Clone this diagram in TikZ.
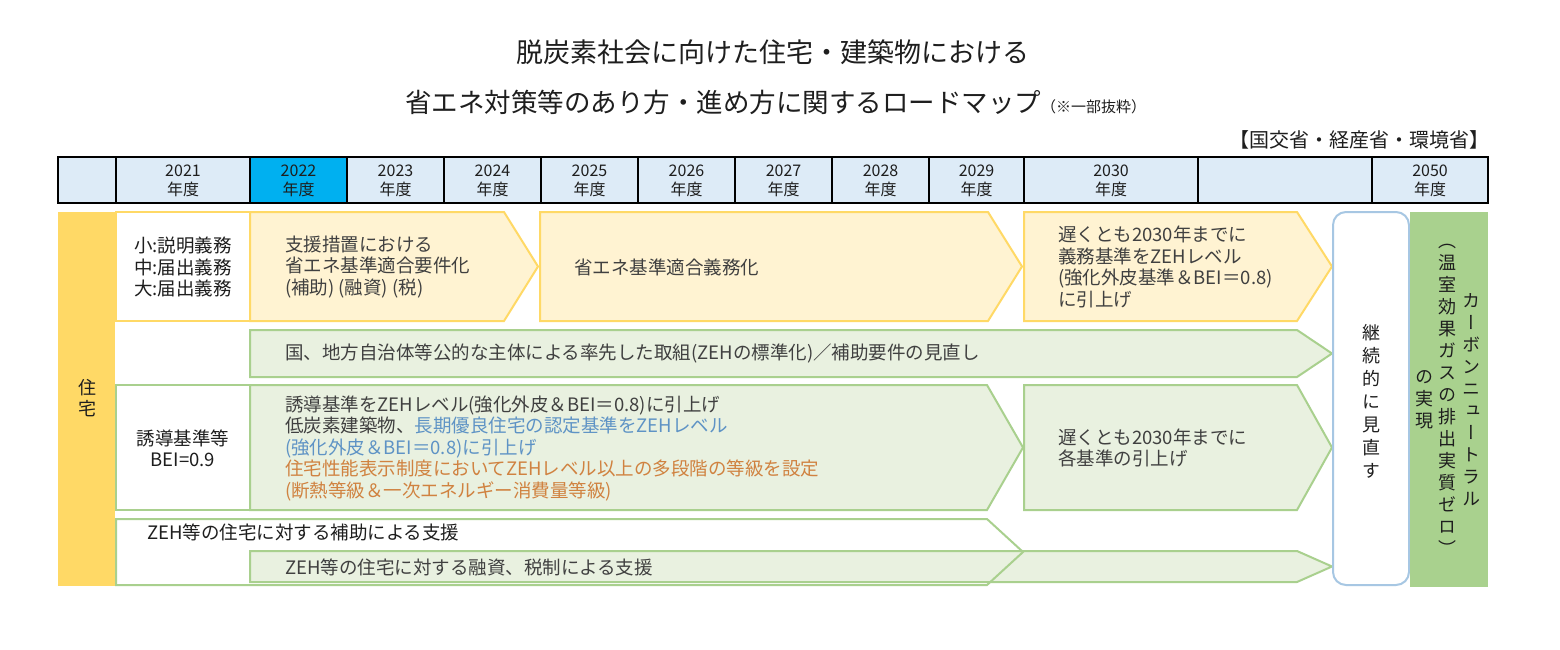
\documentclass[tikz,border=0pt]{standalone}
\usepackage{fontspec}
\setmainfont{Noto Sans CJK JP}
\newfontfamily\jpv{Noto Sans CJK JP}[RawFeature=+vert]
\definecolor{hdr}{HTML}{DDEBF7}
\definecolor{hdrhi}{HTML}{00B0F0}
\definecolor{ylwfill}{HTML}{FFF3D2}
\definecolor{ylwline}{HTML}{FFD966}
\definecolor{grnfill}{HTML}{E9F1E0}
\definecolor{grnline}{HTML}{A9D08E}
\definecolor{orangecol}{HTML}{FFD966}
\definecolor{grnbox}{HTML}{A9D18E}
\definecolor{bluebox}{HTML}{A7C7E3}
\definecolor{txtgray}{HTML}{404040}
\definecolor{txtblue}{HTML}{5E93C5}
\definecolor{txtorange}{HTML}{D08240}
\definecolor{txtblack}{HTML}{1E1E1E}
\tikzset{
  base/.style={inner sep=0pt, outer sep=0pt},
  yr/.style={base, align=center, font=\fontsize{16}{19}\selectfont, text=txtblack},
  body/.style={base, anchor=west, align=left, font=\fontsize{18.5}{21.5}\selectfont, text=txtgray},
  lab/.style={base, align=center, font=\fontsize{18.5}{21.5}\selectfont, text=txtblack},
  yarrow/.style={fill=ylwfill, draw=ylwline, line width=2pt},
  garrow/.style={fill=grnfill, draw=grnline, line width=2pt},
  vtext/.style={base, align=center, text=txtblack, font=\jpv\fontsize{18}{22}\selectfont},
}
\begin{document}
\begin{tikzpicture}[x=1pt,y=-1pt]
\useasboundingbox (0,0) rectangle (1560,650);
\fill[white] (0,0) rectangle (1560,650);

% titles
\node[base, font=\fontsize{27}{30}\selectfont, text=txtblack] (title1) at (773,52) {脱炭素社会に向けた住宅・建築物における};
\node[base, anchor=west, font=\fontsize{26.5}{30}\selectfont, text=txtblack] (title2) at (405,102) {省エネ対策等のあり方・進め方に関するロードマップ{\fontsize{15}{15}\selectfont （※一部抜粋）}};
\node[base, anchor=east, font=\fontsize{20}{22}\selectfont, text=txtblack] (auth) at (1489,140) {【国交省・経産省・環境省】};

% header
\fill[hdr] (58,157) rectangle (1488,203);
\fill[hdrhi] (250,157) rectangle (347,203);
\foreach \xx in {116,250,347,444,541,638,735,832,929,1024,1198,1372}
  \draw[line width=1.6pt] (\xx,157) -- (\xx,203);
\draw[line width=2.6pt] (58,157) rectangle (1488,203);
\foreach \c/\t [count=\i] in {183/2021,298.5/2022,395.5/2023,492.5/2024,589.5/2025,686.5/2026,783.5/2027,880.5/2028,976.5/2029,1111/2030,1430/2050}
  \node[yr] (yr\i) at (\c,180.5) {\t\\年度};

% left category column
\fill[orangecol] (58,212) rectangle (115,586);
\node[lab, font=\fontsize{18}{21}\selectfont] (house) at (87.5,398) {住\\宅};

% row 1
\draw[fill=white, draw=ylwline, line width=2pt] (116,212) rectangle (250,321);
\node[lab] (r1lab) at (183,267) {小:説明義務\\中:届出義務\\大:届出義務};
\draw[yarrow] (250,212) -- (504,212) -- (538,266.5) -- (504,321) -- (250,321) -- cycle;
\node[body] (r1a) at (285,267) {支援措置における\\省エネ基準適合要件化\\(補助) (融資) (税)};
\draw[yarrow] (540,212) -- (988,212) -- (1022,266.5) -- (988,321) -- (540,321) -- cycle;
\node[body] (r1b) at (574,267) {省エネ基準適合義務化};
\draw[yarrow] (1024,212) -- (1297,212) -- (1332,266.5) -- (1297,321) -- (1024,321) -- cycle;
\node[body] (r1c) at (1058,267) {遅くとも2030年までに\\義務基準をZEHレベル\\(強化外皮基準＆BEI＝0.8)\\に引上げ};

% row 2
\draw[garrow] (250,330) -- (1297,330) -- (1332,353.5) -- (1297,377) -- (250,377) -- cycle;
\node[body] (r2a) at (285,353.5) {国、地方自治体等公的な主体による率先した取組(ZEHの標準化)／補助要件の見直し};

% row 3
\draw[fill=white, draw=grnline, line width=2pt] (116,385) rectangle (250,510);
\node[lab] (r3lab) at (183,448.5) {誘導基準等\\BEI=0.9};
\draw[garrow] (250,385) -- (987,385) -- (1023,447.5) -- (987,510) -- (250,510) -- cycle;
\node[body] (r3a) at (285,448) {誘導基準をZEHレベル(強化外皮＆BEI＝0.8)に引上げ\\
低炭素建築物、\textcolor{txtblue}{長期優良住宅の認定基準をZEHレベル}\\
\textcolor{txtblue}{(強化外皮＆BEI＝0.8)に引上げ}\\
\textcolor{txtorange}{住宅性能表示制度においてZEHレベル以上の多段階の等級を設定}\\
\textcolor{txtorange}{(断熱等級＆一次エネルギー消費量等級)}};
\draw[garrow] (1024,385) -- (1297,385) -- (1332,447.5) -- (1297,510) -- (1024,510) -- cycle;
\node[body] (r3b) at (1058,448) {遅くとも2030年までに\\各基準の引上げ};

% row 4
\path[fill=white] (116,519) -- (987,519) -- (1023,552) -- (987,585) -- (116,585) -- cycle;
\draw[garrow] (250,551) -- (1297,551) -- (1332,566.5) -- (1297,582) -- (250,582) -- cycle;
\draw[draw=grnline, line width=2pt] (116,519) -- (987,519) -- (1023,552) -- (987,585) -- (116,585) -- cycle;
\node[body, text=txtblack] (r4a) at (147,532) {ZEH等の住宅に対する補助による支援};
\node[body] (r4b) at (285,567) {ZEH等の住宅に対する融資、税制による支援};

% continuous review box
\draw[fill=white, draw=bluebox, line width=2pt, rounded corners=13pt] (1333,212) rectangle (1409,585);
\node[vtext, font=\jpv\fontsize{18}{23}\selectfont] (review) at (1371,401) {継\\続\\的\\に\\見\\直\\す};

% carbon neutral box
\fill[grnbox] (1410,212) rectangle (1488,587);
\node[vtext] (cn1) at (1471,400) {カ\\ー\\ボ\\ン\\ニ\\ュ\\ー\\ト\\ラ\\ル};
\node[vtext] (cn2) at (1447,400) {（\\温\\室\\効\\果\\ガ\\ス\\の\\排\\出\\実\\質\\ゼ\\ロ\\）};
\node[vtext] (cn3) at (1424,400) {の\\実\\現};
\end{tikzpicture}
\end{document}
